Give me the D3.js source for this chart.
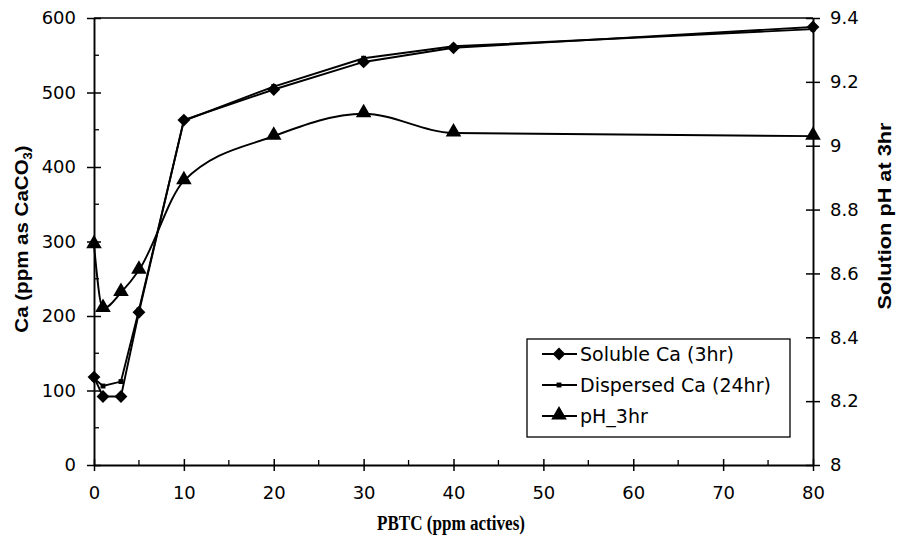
<!DOCTYPE html>
<html>
<head>
<meta charset="utf-8">
<script src="https://cdn.jsdelivr.net/npm/d3@7"></script>
<style>
  body { margin: 0; background: #fff; }
  svg text { font-family: "DejaVu Sans", sans-serif; fill: #000; }
</style>
</head>
<body>
<script>
// data
var pbtc = [0, 1, 3, 5, 10, 20, 30, 40, 80];
var solubleCa = [118, 92, 92, 205, 463, 504, 541, 560, 588];
var dispersedCa = [116, 106, 112, 208, 462, 508, 546, 562, 585];
var ph3hr = [8.69, 8.49, 8.54, 8.61, 8.89, 9.03, 9.10, 9.04, 9.03];

var xTicks = [0, 10, 20, 30, 40, 50, 60, 70, 80];
var caTicks = [0, 100, 200, 300, 400, 500, 600];
var phTicks = [8, 8.2, 8.4, 8.6, 8.8, 9, 9.2, 9.4];
var legendNames = ["Soluble Ca (3hr)", "Dispersed Ca (24hr)", "pH_3hr"];

// plot parameters
var width = 897, height = 551;
var box = { left: 94, right: 813, top: 18, bottom: 465 };

var svg = d3.select("body").append("svg")
  .attr("width", width)
  .attr("height", height);

// scales
var x = d3.scaleLinear().domain([0, 80]).range([box.left, box.right]);
var yCa = d3.scaleLinear().domain([0, 600]).range([box.bottom, box.top]);
var yPh = d3.scaleLinear().domain([8, 9.4]).range([box.bottom, box.top]);

// frame top line
svg.append("line")
  .attr("x1", box.left).attr("x2", box.right)
  .attr("y1", box.top).attr("y2", box.top)
  .attr("stroke", "#000").attr("stroke-width", 1.6);

// minor ticks (drawn inside)
function minorTicks(vals, isX, scale, pos, dir) {
  svg.append("g").selectAll("line")
    .data(vals).enter().append("line")
    .attr("x1", function(d) { return isX ? scale(d) : pos; })
    .attr("x2", function(d) { return isX ? scale(d) : pos + dir * 5; })
    .attr("y1", function(d) { return isX ? pos : scale(d); })
    .attr("y2", function(d) { return isX ? pos + dir * 5 : scale(d); })
    .attr("stroke", "#000").attr("stroke-width", 1.3);
}
minorTicks(d3.range(5, 80, 10), true, x, box.bottom, -1);
minorTicks(d3.range(50, 600, 100), false, yCa, box.left, 1);

// axes with crossing ticks
function styleAxis(g) {
  g.select(".domain").attr("stroke-width", 1.9);
  g.selectAll(".tick line").attr("stroke-width", 1.5);
  g.selectAll(".tick text")
    .style("font-family", "'DejaVu Sans', sans-serif")
    .style("font-size", "18px");
}

var xAxis = svg.append("g")
  .attr("transform", "translate(0," + box.bottom + ")")
  .call(d3.axisBottom(x).tickValues(xTicks).tickSizeInner(6).tickSizeOuter(0).tickPadding(15));
xAxis.selectAll(".tick line").attr("y1", -6);
styleAxis(xAxis);

var leftAxis = svg.append("g")
  .attr("transform", "translate(" + box.left + ",0)")
  .call(d3.axisLeft(yCa).tickValues(caTicks).tickSizeInner(7).tickSizeOuter(0).tickPadding(11));
leftAxis.selectAll(".tick line").attr("x1", 7);
styleAxis(leftAxis);

var rightAxis = svg.append("g")
  .attr("transform", "translate(" + box.right + ",0)")
  .call(d3.axisRight(yPh).tickValues(phTicks).tickSizeInner(7).tickSizeOuter(0).tickPadding(10)
    .tickFormat(function(d) { return d3.format("~g")(d); }));
rightAxis.selectAll(".tick line").attr("x1", -7);
styleAxis(rightAxis);

// lines
var lineCa = d3.line()
  .x(function(d, i) { return x(pbtc[i]); })
  .y(function(d) { return yCa(d); });
var linePh = d3.line()
  .x(function(d, i) { return x(pbtc[i]); })
  .y(function(d) { return yPh(d); })
  .curve(d3.curveMonotoneX);

svg.append("path").datum(dispersedCa)
  .attr("d", lineCa).attr("fill", "none")
  .attr("stroke", "#000").attr("stroke-width", 1.9);
svg.append("path").datum(solubleCa)
  .attr("d", lineCa).attr("fill", "none")
  .attr("stroke", "#000").attr("stroke-width", 1.9);
svg.append("path").datum(ph3hr)
  .attr("d", linePh).attr("fill", "none")
  .attr("stroke", "#000").attr("stroke-width", 1.9);

// markers
var diamond = d3.symbol().type(d3.symbolDiamond2).size(105);
var square = d3.symbol().type(d3.symbolSquare).size(24);
var triangle = d3.symbol().type(d3.symbolTriangle).size(105);

svg.append("g").selectAll("path")
  .data(dispersedCa).enter().append("path")
  .attr("d", square)
  .attr("transform", function(d, i) { return "translate(" + x(pbtc[i]) + "," + yCa(d) + ")"; });
svg.append("g").selectAll("path")
  .data(solubleCa).enter().append("path")
  .attr("d", diamond)
  .attr("transform", function(d, i) { return "translate(" + x(pbtc[i]) + "," + yCa(d) + ")"; });
svg.append("g").selectAll("path")
  .data(ph3hr).enter().append("path")
  .attr("d", triangle)
  .attr("transform", function(d, i) { return "translate(" + x(pbtc[i]) + "," + (yPh(d) - 1) + ")"; });

// axis titles
var leftTitle = svg.append("text")
  .attr("transform", "translate(28,239) rotate(-90) scale(1.08,1)")
  .attr("text-anchor", "middle")
  .style("font-family", "Arial, 'Liberation Sans', sans-serif")
  .style("font-size", "19px")
  .style("font-weight", "bold");
leftTitle.append("tspan").text("Ca (ppm as CaCO");
leftTitle.append("tspan").attr("dy", 4).style("font-size", "12px").text("3");
leftTitle.append("tspan").attr("dy", -4).text(")");

svg.append("text")
  .attr("transform", "translate(891,216) rotate(-90)")
  .attr("text-anchor", "middle")
  .attr("textLength", 187)
  .attr("lengthAdjust", "spacingAndGlyphs")
  .style("font-family", "Arial, 'Liberation Sans', sans-serif")
  .style("font-size", "18px")
  .style("font-weight", "bold")
  .text("Solution pH at 3hr");

svg.append("text")
  .attr("x", 451).attr("y", 530)
  .attr("text-anchor", "middle")
  .attr("textLength", 148)
  .attr("lengthAdjust", "spacingAndGlyphs")
  .style("font-family", "'Liberation Serif', 'Times New Roman', serif")
  .style("font-size", "20px")
  .style("font-weight", "bold")
  .text("PBTC (ppm actives)");

// legend
var legend = svg.append("g").attr("transform", "translate(527,339)");
legend.append("rect")
  .attr("width", 263).attr("height", 98)
  .attr("fill", "#fff").attr("stroke", "#000").attr("stroke-width", 1.3);

var legendSymbols = [diamond, square, triangle];
legendNames.forEach(function(name, i) {
  var yPos = 15 + i * 31;
  legend.append("line")
    .attr("x1", 15).attr("x2", 50)
    .attr("y1", yPos).attr("y2", yPos)
    .attr("stroke", "#000").attr("stroke-width", 1.9);
  legend.append("path")
    .attr("d", legendSymbols[i])
    .attr("transform", "translate(32," + (i === 2 ? yPos - 1 : yPos) + ")");
  legend.append("text")
    .attr("x", 53).attr("y", yPos + 7)
    .style("font-size", "19px")
    .text(name);
});
</script>
</body>
</html>
